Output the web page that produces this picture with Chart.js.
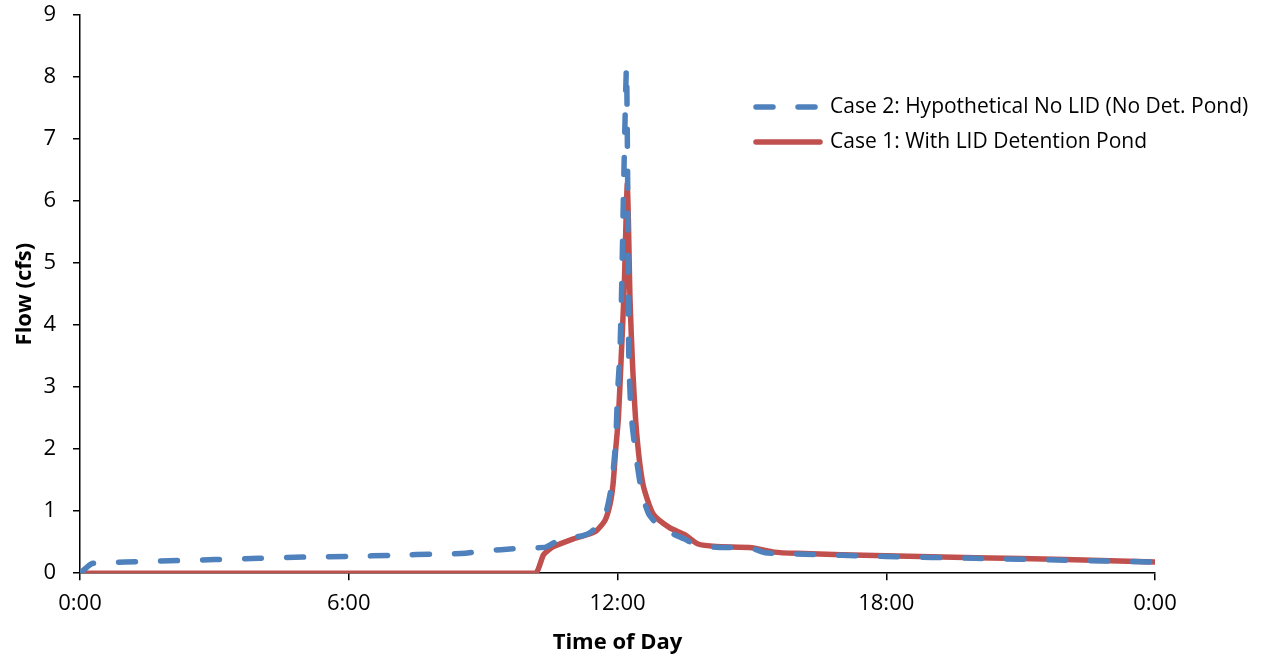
<!DOCTYPE html>
<html>
<head>
<meta charset="utf-8">
<script src="https://cdn.jsdelivr.net/npm/chart.js@4/dist/chart.umd.min.js"></script>
<style>
  html,body{margin:0;padding:0;background:#fff;}
  #wrap{width:1262px;height:660px;}
</style>
</head>
<body>
<div id="wrap"><canvas id="flowChart" width="1262" height="660"></canvas></div>
<script>
// hours since midnight
var case2Hours = [0,0.25,0.5,1,2,3,4,5,6,7,8,8.6,9,9.4,10,10.4,10.6,10.8,11.2,11.4,11.6,11.75,11.87,11.96,12.0,12.05,12.09,12.13,12.2,12.23,12.25,12.3,12.4,12.55,12.7,12.9,13.1,13.5,13.8,14.2,15.0,15.3,16,18,20,22,24];
var case2Flow  = [0,0.15,0.17,0.18,0.2,0.22,0.24,0.26,0.27,0.29,0.31,0.32,0.36,0.38,0.41,0.42,0.5,0.56,0.6,0.66,0.8,1.0,1.43,2.13,2.9,3.5,4.5,6.0,8.15,6.0,3.6,2.6,1.95,1.27,0.95,0.78,0.68,0.55,0.44,0.42,0.4,0.33,0.31,0.27,0.24,0.21,0.18];

var case1Hours = [0,10.15,10.35,10.55,11,11.5,11.72,11.83,11.9,11.96,12.02,12.09,12.15,12.22,12.28,12.34,12.43,12.57,12.8,13.17,13.5,13.8,14.2,15.0,15.5,16,18,20,22,24];
var case1Flow  = [0,0,0.3,0.42,0.55,0.67,0.85,1.1,1.43,2.0,2.5,3.6,4.6,6.28,4.4,3.3,2.24,1.43,0.95,0.73,0.62,0.47,0.43,0.41,0.34,0.32,0.28,0.25,0.22,0.18];

var xTicks = [0,6,12,18,24];
var yTicks = [0,1,2,3,4,5,6,7,8,9];

var blue = '#4F81BD', red = '#C0504D';
var font = '"Open Sans", sans-serif';

function toPoints(xs,ys){
    var out = [];
    for(var i=0;i<xs.length;i++){ out.push({x:xs[i],y:ys[i]}); }
    return out;
}

//legend drawn inside the plot, top right
var innerLegend = {
    id:'innerLegend',
    afterDraw:(chart)=>{
        var ctx = chart.ctx;
        var items = [
            {text:'Case 2: Hypothetical No LID (No Det. Pond)', color:blue, dash:[17,25], y:107},
            {text:'Case 1: With LID Detention Pond', color:red, dash:[], y:142}
        ];
        ctx.save();
        items.forEach(it=>{
            ctx.beginPath();
            ctx.strokeStyle = it.color;
            ctx.lineWidth = 5.5;
            ctx.lineCap = 'round';
            ctx.setLineDash(it.dash);
            ctx.moveTo(756,it.y);
            ctx.lineTo(820,it.y);
            ctx.stroke();
            ctx.setLineDash([]);
            ctx.fillStyle = '#000';
            ctx.font = '21px ' + font;
            ctx.textBaseline = 'middle';
            ctx.fillText(it.text,830,it.y);
        });
        ctx.restore();
    }
};

var ctx = document.getElementById('flowChart').getContext('2d');
var chart = new Chart(ctx,{
    type:'line',
    data:{
        datasets:[{
            label:'Case 2: Hypothetical No LID (No Det. Pond)',
            data:toPoints(case2Hours,case2Flow),
            borderColor:blue,
            borderWidth:5.5,
            borderDash:[17,25],
            borderCapStyle:'round',
            pointRadius:0,
            tension:0.2,
            fill:false
        },{
            label:'Case 1: With LID Detention Pond',
            data:toPoints(case1Hours,case1Flow),
            borderColor:red,
            borderWidth:5.5,
            borderCapStyle:'round',
            pointRadius:0,
            tension:0.2,
            fill:false
        }]
    },
    options:{
        responsive:false,
        animation:false,
        layout:{padding:{top:15,right:107,bottom:0,left:8}},
        plugins:{legend:{display:false},tooltip:{enabled:false}},
        scales:{
            x:{
                type:'linear',min:0,max:24,
                afterBuildTicks:(s)=>{ s.ticks = xTicks.map(v=>({value:v})); },
                ticks:{
                    callback:(v)=>(v%24)+':00',
                    color:'#000',font:{family:font,size:22},padding:10,maxRotation:0
                },
                grid:{drawOnChartArea:false,drawTicks:true,tickLength:7,color:'#000',lineWidth:1.5},
                border:{display:true,color:'#000',width:1.5},
                title:{display:true,text:'Time of Day',color:'#000',font:{family:font,size:22,weight:'bold'},padding:{top:3}}
            },
            y:{
                min:0,max:9,
                afterBuildTicks:(s)=>{ s.ticks = yTicks.map(v=>({value:v})); },
                afterFit:(s)=>{ s.width = 72; s.paddingTop = 0; },
                ticks:{color:'#000',font:{family:font,size:22},padding:17},
                grid:{drawOnChartArea:false,drawTicks:true,tickLength:7,color:'#000',lineWidth:1.5},
                border:{display:true,color:'#000',width:1.5},
                title:{display:true,text:'Flow (cfs)',color:'#000',font:{family:font,size:22,weight:'bold'},padding:{bottom:4}}
            }
        }
    },
    plugins:[innerLegend]
});
</script>
</body>
</html>
